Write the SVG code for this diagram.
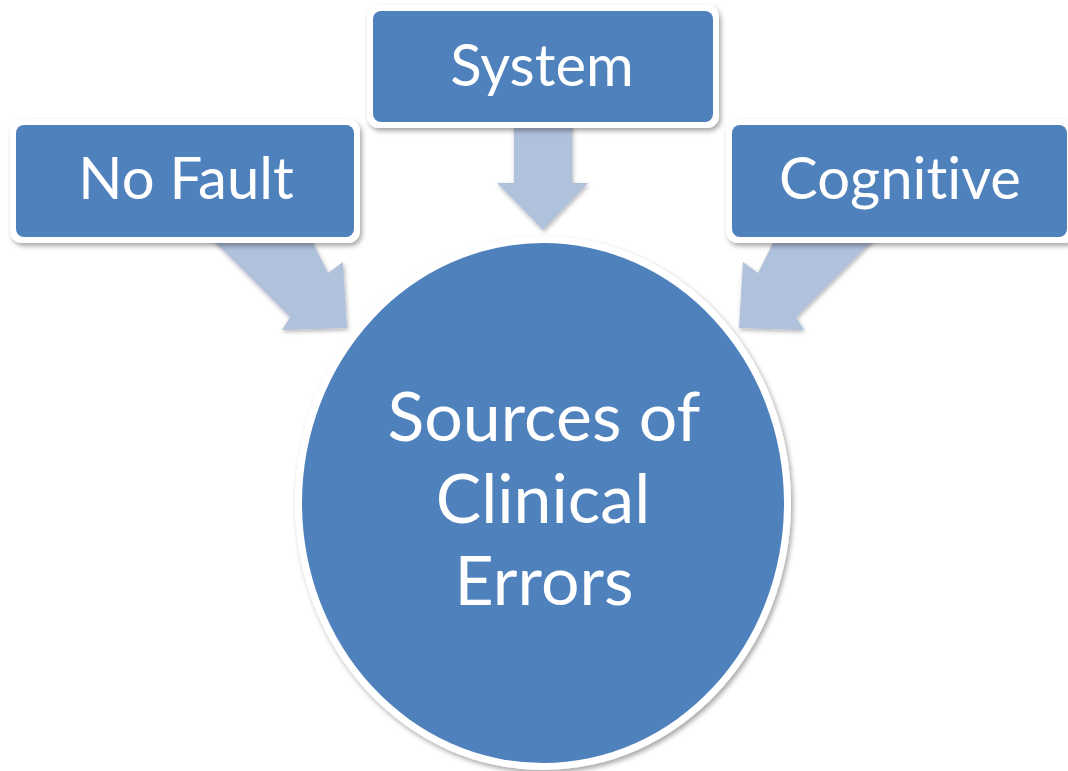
<svg xmlns="http://www.w3.org/2000/svg" width="1068" height="771" viewBox="0 0 1068 771">
  <defs>
    <filter id="shadow" x="-10%" y="-10%" width="120%" height="125%">
      <feDropShadow dx="2" dy="3" stdDeviation="2.5" flood-color="#000" flood-opacity="0.35"/>
    </filter>
    <filter id="ashadow" x="-10%" y="-10%" width="125%" height="125%">
      <feDropShadow dx="1" dy="2" stdDeviation="2" flood-color="#000" flood-opacity="0.3"/>
    </filter>
  </defs>
  <style>
    .arrow { fill: #B0C1DC; filter: url(#ashadow); }
    .frame { fill: #FFFFFF; filter: url(#shadow); }
    .fill { fill: #4F81BD; }
    .label { font-family: Lato, "Open Sans", "Liberation Sans", sans-serif; fill: #FFFFFF; text-anchor: middle; font-variant-ligatures: none; font-feature-settings: "liga" 0; }
    .small { font-size: 58px; }
    .big { font-size: 68px; }
  </style>
  <rect width="1068" height="771" fill="#FFFFFF"/>
  <g id="connectors">
    <polygon class="arrow" points="203,230 290,317 282,330 347,328 343,262 328,273 308,233"/>
    <polygon class="arrow" points="514,115 514,183 497,183 543,230 588,183 572,183 572,115"/>
    <polygon class="arrow" points="883,230 796,317 804,330 739,328 743,262 758,273 778,233"/>
  </g>
  <g id="node-nofault">
    <rect class="frame" x="10" y="119" width="350" height="124" rx="12"/>
    <rect class="fill" x="16" y="125" width="338" height="112" rx="8"/>
    <text class="label small" x="186" y="199">No Fault</text>
  </g>
  <g id="node-system">
    <rect class="frame" x="367" y="5" width="352" height="123" rx="12"/>
    <rect class="fill" x="373" y="11" width="340" height="111" rx="8"/>
    <text class="label small" x="542" y="86">System</text>
  </g>
  <g id="node-cognitive">
    <rect class="frame" x="726" y="119" width="350" height="124" rx="12"/>
    <rect class="fill" x="732" y="125" width="335" height="112" rx="8"/>
    <text class="label small" x="900" y="199">Cognitive</text>
  </g>
  <g id="node-center">
    <ellipse class="frame" cx="543" cy="503" rx="248" ry="267"/>
    <ellipse class="fill" cx="543" cy="503" rx="241" ry="260"/>
    <text class="label big" x="544" y="441">Sources of</text>
    <text class="label big" x="543" y="523">Clinical</text>
    <text class="label big" x="544" y="605">Errors</text>
  </g>
</svg>
